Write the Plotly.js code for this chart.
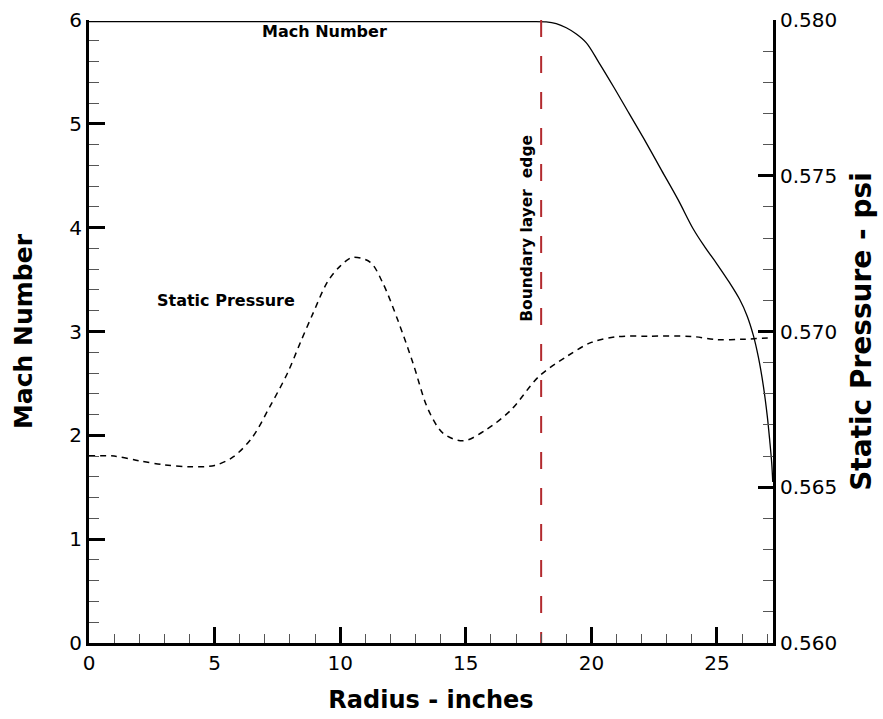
<!DOCTYPE html>
<html>
<head>
<meta charset="utf-8">
<script src="https://cdn.plot.ly/plotly-3.0.1.min.js"></script>
<style>
html,body{margin:0;padding:0;background:#fff;}
#chart{width:883px;height:719px;}
</style>
</head>
<body>
<div id="chart"></div>
<script>
// Mach number profile (left axis)
const machRadius = [0, 5, 10, 15, 17.5, 18.2, 18.6, 19.0, 19.4, 19.8, 20.3, 20.9, 21.5, 22.2, 22.8, 23.45, 24.05, 24.5, 25.0, 25.5, 25.9, 26.2, 26.45, 26.65, 26.85, 27.0, 27.1, 27.18, 27.22];
const machValues = [5.985, 5.985, 5.985, 5.985, 5.985, 5.982, 5.965, 5.925, 5.865, 5.78, 5.59, 5.35, 5.10, 4.81, 4.55, 4.27, 3.99, 3.82, 3.65, 3.47, 3.31, 3.15, 2.96, 2.75, 2.47, 2.19, 1.95, 1.73, 1.55];

// Static pressure profile (right axis, psi)
const pressRadius = [0, 1, 2, 3, 4, 5, 5.75, 6.5, 7.2, 7.9, 8.4, 8.9, 9.5, 10, 10.5, 11.2, 11.7, 12.3, 12.9, 13.5, 14.1, 14.9, 15.8, 16.8, 17.9, 19, 20, 21, 22.3, 24, 25, 26, 27.2];
const pressValues = [0.56601, 0.56600, 0.56585, 0.56572, 0.56566, 0.56570, 0.56598, 0.56660, 0.56759, 0.56866, 0.56962, 0.57055, 0.57160, 0.57210, 0.57238, 0.57222, 0.57155, 0.57035, 0.56898, 0.56750, 0.56673, 0.56649, 0.56684, 0.56748, 0.56855, 0.56919, 0.56965, 0.56983, 0.56985, 0.56984, 0.56974, 0.56975, 0.56980];

// Boundary layer edge marker
const edgeRadius = [18, 18];
const edgeMach = [6, 0];

const FONT = '"DejaVu Sans", "Liberation Sans", Arial, sans-serif';

const traces = [
  {
    x: machRadius, y: machValues, type: 'scatter', mode: 'lines',
    name: 'Mach Number', line: {color: '#000', width: 1.3, shape: 'spline', smoothing: 1},
    showlegend: false, hoverinfo: 'x+y'
  },
  {
    x: pressRadius, y: pressValues, type: 'scatter', mode: 'lines', yaxis: 'y2',
    name: 'Static Pressure', line: {color: '#000', width: 1.5, dash: '6px,5px', shape: 'spline', smoothing: 0.9},
    showlegend: false, hoverinfo: 'x+y'
  },
  {
    x: edgeRadius, y: edgeMach, type: 'scatter', mode: 'lines',
    name: 'Boundary layer edge', line: {color: '#b22a2e', width: 2, dash: '17px,19px'},
    showlegend: false, hoverinfo: 'skip'
  }
];

const layout = {
  width: 883, height: 719,
  margin: {l: 89, r: 110, t: 20, b: 76, pad: 0},
  paper_bgcolor: '#fff', plot_bgcolor: '#fff',
  font: {family: FONT, color: '#000', size: 20},
  showlegend: false,
  xaxis: {
    range: [0, 27.23], tick0: 0, dtick: 5, showgrid: false, zeroline: false,
    showline: true, linewidth: 3, linecolor: '#000', mirror: false,
    ticks: 'inside', ticklen: 16, tickwidth: 3, tickcolor: '#000',
    minor: {dtick: 1, ticks: 'inside', ticklen: 9, tickwidth: 1, tickcolor: '#555', showgrid: false},
    tickfont: {family: FONT, size: 20, color: '#000'},
    title: {text: 'Radius - inches', font: {family: FONT, size: 24, color: '#000', weight: 'bold'}, standoff: 18},
    automargin: false
  },
  yaxis: {
    range: [0, 6], tick0: 0, dtick: 1, showgrid: false, zeroline: false,
    showline: true, linewidth: 3, linecolor: '#000',
    ticks: 'inside', ticklen: 16, tickwidth: 3, tickcolor: '#000',
    minor: {dtick: 0.2, ticks: 'inside', ticklen: 10, tickwidth: 1, tickcolor: '#555', showgrid: false},
    tickfont: {family: FONT, size: 20, color: '#000'},
    title: {text: 'Mach Number', font: {family: FONT, size: 25, color: '#000', weight: 'bold'}, standoff: 30},
    automargin: false
  },
  yaxis2: {
    range: [0.560, 0.580], tick0: 0.56, dtick: 0.005, tickformat: '.3f',
    overlaying: 'y', side: 'right', anchor: 'x', showgrid: false, zeroline: false,
    showline: true, linewidth: 3, linecolor: '#000',
    ticks: 'inside', ticklen: 15, tickwidth: 3, tickcolor: '#000',
    minor: {dtick: 0.001, ticks: 'inside', ticklen: 10, tickwidth: 1, tickcolor: '#555', showgrid: false},
    tickfont: {family: FONT, size: 20, color: '#000'},
    title: {text: 'Static Pressure - psi', font: {family: FONT, size: 28, color: '#000', weight: 'bold'}, standoff: 16},
    automargin: false
  },
  annotations: [
    {x: 9.36, y: 5.886, xref: 'x', yref: 'y', text: 'Mach Number', showarrow: false,
     font: {family: FONT, size: 16, color: '#000', weight: 'bold'}},
    {x: 5.45, y: 3.30, xref: 'x', yref: 'y', text: 'Static Pressure', showarrow: false,
     font: {family: FONT, size: 16, color: '#000', weight: 'bold'}},
    {x: 17.44, y: 3.99, xref: 'x', yref: 'y', text: 'Boundary layer  edge', showarrow: false, textangle: -90,
     font: {family: FONT, size: 15.5, color: '#000', weight: 'bold'}}
  ]
};

Plotly.newPlot('chart', traces, layout, {staticPlot: true, displayModeBar: false});
</script>
</body>
</html>
